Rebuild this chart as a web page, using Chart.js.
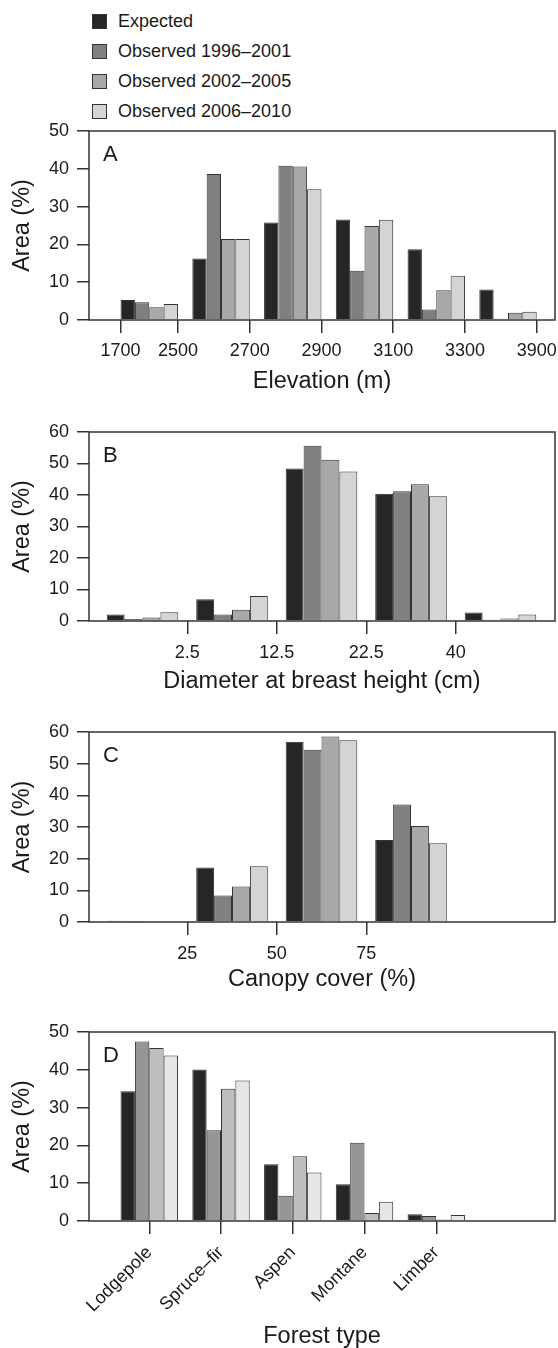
<!DOCTYPE html>
<html>
<head>
<meta charset="utf-8">
<script src="https://cdn.jsdelivr.net/npm/chart.js@4.4.1/dist/chart.umd.min.js"></script>
<style>
  body { margin: 0; background: #fff; }
  #page {
    position: relative;
    width: 558px;
    height: 1348px;
    font-family: "Liberation Sans", Arial, sans-serif;
    color: #1a1a1a;
  }
  .panel { position: absolute; left: 0; }
  #legend { position: absolute; left: 92px; top: 0; }
  .legend-item {
    position: absolute;
    left: 0;
    height: 20px;
    display: flex;
    align-items: center;
    white-space: nowrap;
    font-size: 18px;
  }
  .legend-item .swatch {
    width: 13px;
    height: 13px;
    border: 1px solid #333;
    margin-right: 11px;
  }
</style>
</head>
<body>
<div id="page">
  <div id="legend"></div>
  <canvas id="panelA" class="panel" width="558" height="280" style="top:120px"></canvas>
  <canvas id="panelB" class="panel" width="558" height="280" style="top:420px"></canvas>
  <canvas id="panelC" class="panel" width="558" height="280" style="top:720px"></canvas>
  <canvas id="panelD" class="panel" width="558" height="328" style="top:1020px"></canvas>
</div>

<script>
    const seriesNames = ['Expected', 'Observed 1996–2001', 'Observed 2002–2005', 'Observed 2006–2010'];

    // A - elevation bins (m), labels sit on the bin edges
    const elevTicks = ['1700', '2500', '2700', '2900', '3100', '3300', '3900'];
    const elevExpected = [5.3, 16.3, 25.8, 26.6, 18.7, 8.1];
    const elevObs1 = [4.7, 38.6, 40.8, 13.0, 2.8, 0.3];
    const elevObs2 = [3.4, 21.4, 40.6, 24.9, 7.9, 1.9];
    const elevObs3 = [4.2, 21.4, 34.6, 26.5, 11.7, 2.2];

    // B - diameter at breast height (cm)
    const dbhTicks = ['2.5', '12.5', '22.5', '40'];
    const dbhExpected = [2.1, 6.9, 48.4, 40.4, 2.7];
    const dbhObs1 = [0.6, 2.1, 55.6, 41.2, 0.4];
    const dbhObs2 = [1.1, 3.6, 51.2, 43.4, 0.8];
    const dbhObs3 = [2.8, 7.9, 47.5, 39.6, 2.1];

    // C - canopy cover (%)
    const canopyTicks = ['25', '50', '75'];
    const canopyExpected = [0.4, 17.2, 56.9, 25.9];
    const canopyObs1 = [0.1, 8.4, 54.4, 37.1];
    const canopyObs2 = [0.2, 11.2, 58.6, 30.3];
    const canopyObs3 = [0.2, 17.6, 57.4, 24.9];

    // D - forest type
    const forestTypes = ['Lodgepole', 'Spruce–fir', 'Aspen', 'Montane', 'Limber'];
    const forestExpected = [34.3, 40.1, 15.0, 9.7, 1.8];
    const forestObs1 = [47.5, 24.0, 6.7, 20.7, 1.3];
    const forestObs2 = [45.8, 35.0, 17.1, 2.1, 0.4];
    const forestObs3 = [43.8, 37.2, 12.8, 5.1, 1.6];

    const greys = ['#262626', '#808080', '#a8a8a8', '#d4d4d4'];
    const greysD = ['#262626', '#969696', '#bebebe', '#e6e6e6'];
    const groupPct = 0.8; // share of a group slot taken by its 4 bars
    const font = '"Liberation Sans", Arial, sans-serif';
    const ink = '#1a1a1a';

    Chart.defaults.font.family = font;
    Chart.defaults.color = ink;

    // legend (html, above panel A)
    const legendBox = document.getElementById('legend');
    seriesNames.forEach((name, i) => {
        const row = document.createElement('div');
        row.className = 'legend-item';
        row.style.top = (11 + i * 30.3) + 'px';
        const sw = document.createElement('span');
        sw.className = 'swatch';
        sw.style.background = greys[i];
        row.appendChild(sw);
        row.appendChild(document.createTextNode(name));
        legendBox.appendChild(row);
    });

    // frame round the plot area plus the panel letter
    const panelBox = {
        id: 'panelBox',
        afterDatasetsDraw(chart, args, opts) {
            const { ctx, chartArea: a } = chart;
            ctx.save();
            ctx.strokeStyle = '#333';
            ctx.lineWidth = 1.5;
            ctx.strokeRect(a.left, a.top, a.right - a.left, a.bottom - a.top);
            ctx.fillStyle = ink;
            ctx.font = '22px ' + font;
            ctx.textBaseline = 'alphabetic';
            ctx.fillText(opts.letter, a.left + 14, a.top + 29.5);
            ctx.restore();
        }
    };

    function panelChart(id, p) {
        const canvas = document.getElementById(id);
        const H = canvas.height;
        return new Chart(canvas, {
            type: 'bar',
            plugins: [panelBox],
            data: {
                datasets: p.series.map((vals, s) => ({
                    label: seriesNames[s],
                    data: vals.map((v, i) => ({ x: i, y: v })),
                    xAxisID: 'x',
                    backgroundColor: p.colors[s],
                    borderColor: '#333',
                    borderWidth: 1,
                    categoryPercentage: groupPct,
                    barPercentage: 1
                }))
            },
            options: {
                responsive: false,
                animation: false,
                devicePixelRatio: 1,
                layout: { padding: { top: p.top, right: 3, left: 0, bottom: 0 } },
                plugins: {
                    legend: { display: false },
                    tooltip: { enabled: false },
                    panelBox: { letter: p.letter }
                },
                scales: {
                    // bars sit on this one, one unit per group
                    x: {
                        type: 'linear',
                        display: false,
                        min: p.xMin,
                        max: p.xMax,
                        offset: false,
                        grid: { offset: false },
                        afterBuildTicks: ax => { ax.ticks = p.series[0].map((v, i) => ({ value: i })); }
                    },
                    // visible axis with the bin / class labels
                    xl: {
                        type: 'linear',
                        position: 'bottom',
                        min: p.xMin,
                        max: p.xMax,
                        offset: false,
                        grid: { offset: false, drawOnChartArea: false, tickLength: 13, color: '#333', lineWidth: 1.5 },
                        border: { display: false },
                        ticks: {
                            autoSkip: false,
                            minRotation: p.rot,
                            maxRotation: p.rot,
                            padding: p.tickPad,
                            color: ink,
                            font: { size: 18 },
                            callback: (v, i) => p.tickLabels[i]
                        },
                        title: {
                            display: true,
                            text: p.xTitle,
                            color: ink,
                            font: { size: 23.5, lineHeight: 1 },
                            padding: { top: 0, bottom: p.titlePad }
                        },
                        afterBuildTicks: ax => { ax.ticks = p.tickPos.map(v => ({ value: v })); },
                        afterFit: ax => { ax.height = H - p.bottom; ax.paddingLeft = 0; ax.paddingRight = 0; }
                    },
                    y: {
                        min: 0,
                        max: p.yMax,
                        ticks: { stepSize: 10, padding: 8, color: ink, font: { size: 18 } },
                        grid: { drawOnChartArea: false, tickLength: 12, color: '#333', lineWidth: 1.5 },
                        border: { display: false },
                        title: {
                            display: true,
                            text: 'Area (%)',
                            color: ink,
                            font: { size: 23.5, lineHeight: 1 },
                            padding: { top: 11, bottom: 0 }
                        },
                        afterFit: ax => { ax.width = 89; ax.paddingTop = 0; ax.paddingBottom = 0; }
                    }
                }
            }
        });
    }

    const half = groupPct / 2;

    panelChart('panelA', {
        letter: 'A', xTitle: 'Elevation (m)',
        series: [elevExpected, elevObs1, elevObs2, elevObs3], colors: greys,
        tickLabels: elevTicks,
        tickPos: elevTicks.map((t, k) => k === 0 ? -half : k - 1 + half),
        xMin: -0.84, xMax: 5.655, yMax: 50,
        top: 11, bottom: 200, tickPad: 7, titlePad: 6.25, rot: 0
    });

    panelChart('panelB', {
        letter: 'B', xTitle: 'Diameter at breast height (cm)',
        series: [dbhExpected, dbhObs1, dbhObs2, dbhObs3], colors: greys,
        tickLabels: dbhTicks,
        tickPos: dbhTicks.map((t, k) => k + 0.5),
        xMin: -0.598, xMax: 4.609, yMax: 60,
        top: 12, bottom: 201, tickPad: 8, titlePad: 6.25, rot: 0
    });

    panelChart('panelC', {
        letter: 'C', xTitle: 'Canopy cover (%)',
        series: [canopyExpected, canopyObs1, canopyObs2, canopyObs3], colors: greys,
        tickLabels: canopyTicks,
        tickPos: canopyTicks.map((t, k) => k + 0.5),
        xMin: -0.598, xMax: 4.609, yMax: 60,
        top: 12, bottom: 202, tickPad: 8, titlePad: 8.25, rot: 0
    });

    panelChart('panelD', {
        letter: 'D', xTitle: 'Forest type',
        series: [forestExpected, forestObs1, forestObs2, forestObs3], colors: greysD,
        tickLabels: forestTypes,
        tickPos: forestTypes.map((t, k) => k),
        xMin: -0.84, xMax: 5.655, yMax: 50,
        top: 12, bottom: 201, tickPad: 8, titlePad: 0, rot: 45
    });
</script>
</body>
</html>
